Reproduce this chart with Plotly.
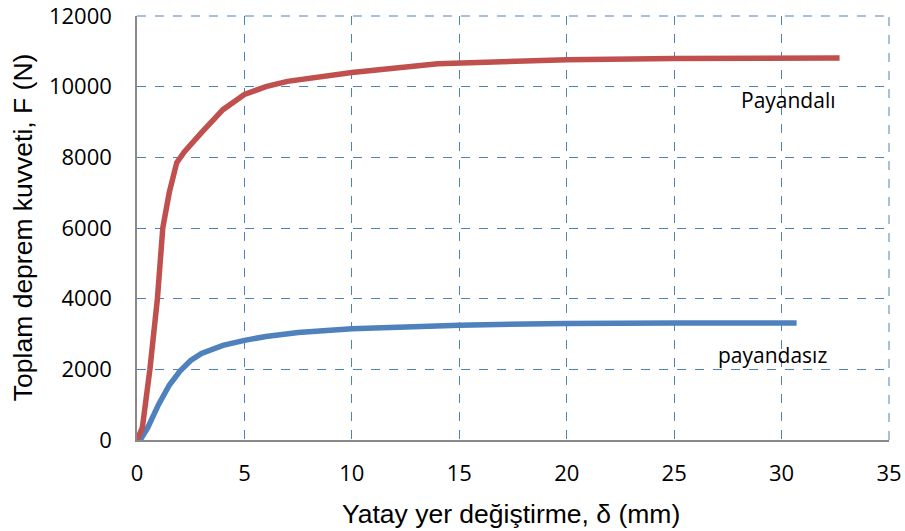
import plotly.graph_objects as go

# Payandalı (red)
x_red = [0, 0.25, 0.6, 0.95, 1.2, 1.5, 1.85, 2.2, 3, 4, 5, 6, 7, 10, 14, 20, 25, 32.7]
y_red = [0, 350, 2000, 4000, 6000, 7000, 7850, 8150, 8700, 9350, 9780, 10000, 10150, 10400, 10650, 10760, 10800, 10810]

# payandasız (blue)
x_blue = [0.15, 0.5, 1, 1.5, 2, 2.5, 3, 4, 5, 6, 7.5, 10, 15, 20, 25, 30.7]
y_blue = [0, 350, 1000, 1550, 1950, 2250, 2450, 2680, 2820, 2930, 3040, 3150, 3250, 3300, 3310, 3310]

x_ticks = [0, 5, 10, 15, 20, 25, 30, 35]
y_ticks = [0, 2000, 4000, 6000, 8000, 10000, 12000]

RED = "#C0504D"
BLUE = "#4F81BD"

fig = go.Figure()
fig.add_trace(go.Scatter(x=x_blue, y=y_blue, mode="lines",
                         line=dict(color=BLUE, width=5.5), showlegend=False))
fig.add_trace(go.Scatter(x=x_red, y=y_red, mode="lines",
                         line=dict(color=RED, width=5.5), showlegend=False))

fig.add_annotation(x=30.3, y=9620, text="Payandalı", showarrow=False,
                   font=dict(family="Open Sans", size=21, color="black"))
fig.add_annotation(x=29.6, y=2400, text="payandasız", showarrow=False,
                   font=dict(family="Open Sans", size=21, color="black"))

# axis titles
fig.add_annotation(xref="paper", yref="paper", x=0.497, y=-0.1745,
                   text="Yatay yer değiştirme, δ (mm)", showarrow=False,
                   xanchor="center", yanchor="middle",
                   font=dict(family="Liberation Sans", size=26.5, color="black"))
fig.add_annotation(xref="paper", yref="paper", x=-0.1516, y=0.502,
                   text="Toplam deprem kuvveti, F (N)", showarrow=False, textangle=-90,
                   xanchor="center", yanchor="middle",
                   font=dict(family="Liberation Sans", size=26.5, color="black"))

axis_common = dict(showgrid=True, gridcolor=BLUE, griddash="dash", gridwidth=1,
                   zeroline=False, showline=True, linecolor="#898989", linewidth=1.5,
                   ticks="", automargin=False, ticklabeloverflow="allow",
                   tickfont=dict(family="Open Sans", size=22, color="black"))

fig.update_xaxes(range=[0, 35], tickvals=x_ticks, ticktext=[str(v) for v in x_ticks],
                 ticklabelstandoff=13, **axis_common)
fig.update_yaxes(range=[0, 12000], tickvals=y_ticks, ticktext=[str(v) for v in y_ticks],
                 ticklabelstandoff=19, **axis_common)

# top and right dashed borders (gridlines at range ends)
fig.add_shape(type="line", xref="paper", yref="paper", x0=0, x1=1, y0=1, y1=1,
              line=dict(color=BLUE, width=1, dash="dash"), layer="below")
fig.add_shape(type="line", xref="paper", yref="paper", x0=1, x1=1, y0=0, y1=1,
              line=dict(color=BLUE, width=1, dash="dash"), layer="below")

fig.update_layout(width=905, height=531, margin=dict(l=137, r=16, t=16, b=91),
                  plot_bgcolor="white", paper_bgcolor="white", hovermode=False)

# remove the default 8px page margin so the figure fills the window exactly
fig.write_html("out.html", config={"displayModeBar": False},
               post_script="document.body.style.margin='0';")
